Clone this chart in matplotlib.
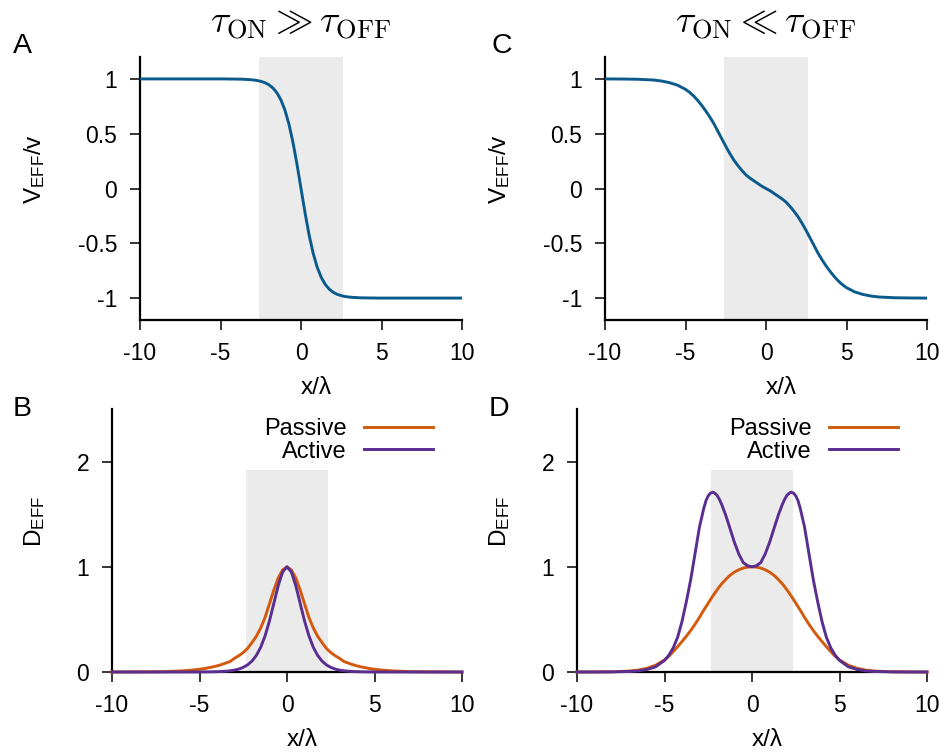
import matplotlib
matplotlib.use("Agg")
import matplotlib.pyplot as plt

plt.rcParams['font.family'] = ['Liberation Sans', 'DejaVu Sans']
plt.rcParams['mathtext.fontset'] = 'custom'
plt.rcParams['mathtext.rm'] = 'Liberation Sans'
plt.rcParams['mathtext.it'] = 'Liberation Sans:italic'
plt.rcParams['mathtext.bf'] = 'Liberation Sans:bold'
plt.rcParams['axes.unicode_minus'] = False

# ---------------- data ----------------
x_pos = [-10, -9, -8, -7, -6.5, -6, -5.5,
         -5, -4.75, -4.5, -4.25, -4, -3.75, -3.5, -3.25, -3, -2.75, -2.5, -2.25,
         -2, -1.75, -1.5, -1.25, -1, -0.75, -0.5, -0.25, 0,
         0.25, 0.5, 0.75, 1, 1.25, 1.5, 1.75, 2, 2.25, 2.5, 2.75, 3, 3.25, 3.5,
         3.75, 4, 4.25, 4.5, 4.75, 5,
         5.5, 6, 6.5, 7, 8, 9, 10]

# Panel A: V_EFF/v, tau_ON >> tau_OFF
v_eff_A = [1, 1, 1, 1, 1, 1, 1,
           1.0, 1.0, 0.999, 0.999, 0.998, 0.998, 0.996, 0.994, 0.991, 0.986, 0.978, 0.966,
           0.947, 0.918, 0.874, 0.809, 0.716, 0.588, 0.422, 0.221, 0.0,
           -0.221, -0.422, -0.588, -0.716, -0.809, -0.874, -0.918, -0.947, -0.966, -0.978,
           -0.986, -0.991, -0.994, -0.996,
           -0.998, -0.998, -0.999, -0.999, -1.0, -1.0,
           -1, -1, -1, -1, -1, -1, -1]

# Panel C: V_EFF/v, tau_ON << tau_OFF
v_eff_C = [1.0, 0.999, 0.997, 0.99, 0.981, 0.966, 0.943,
           0.905, 0.878, 0.845, 0.805, 0.76, 0.71, 0.655, 0.595, 0.525, 0.455, 0.385, 0.32,
           0.26, 0.21, 0.165, 0.125, 0.095, 0.07, 0.045, 0.02, 0.0,
           -0.02, -0.045, -0.07, -0.095, -0.125, -0.165, -0.21, -0.26, -0.32, -0.385,
           -0.455, -0.525, -0.595, -0.655,
           -0.71, -0.76, -0.805, -0.845, -0.878, -0.905,
           -0.943, -0.966, -0.981, -0.99, -0.997, -0.999, -1.0]

# Panel B: D_EFF, tau_ON >> tau_OFF
d_passive_B = [0.0, 0.0005, 0.0015, 0.004, 0.007, 0.011, 0.017,
               0.026, 0.032, 0.04, 0.048, 0.058, 0.07, 0.085, 0.10, 0.13, 0.155, 0.185, 0.225,
               0.28, 0.34, 0.42, 0.52, 0.65, 0.78, 0.895, 0.97, 1.0,
               0.97, 0.895, 0.78, 0.65, 0.52, 0.42, 0.34, 0.28, 0.225, 0.185,
               0.155, 0.13, 0.10, 0.085,
               0.07, 0.058, 0.048, 0.04, 0.032, 0.026,
               0.017, 0.011, 0.007, 0.004, 0.0015, 0.0005, 0.0]
d_active_B = [0.0, 0.0, 0.0, 0.0, 0.0, 0.0, 0.0002,
              0.0005, 0.0008, 0.0012, 0.002, 0.003, 0.0046, 0.0074, 0.0116, 0.018, 0.028, 0.044, 0.068,
              0.104, 0.158, 0.236, 0.345, 0.487, 0.654, 0.822, 0.951, 1.0,
              0.951, 0.822, 0.654, 0.487, 0.345, 0.236, 0.158, 0.104, 0.068, 0.044,
              0.028, 0.018, 0.0116, 0.0074,
              0.0046, 0.003, 0.002, 0.0012, 0.0008, 0.0005,
              0.0002, 0.0, 0.0, 0.0, 0.0, 0.0, 0.0]

# Panel D: D_EFF, tau_ON << tau_OFF
d_passive_D = [0.0, 0.0005, 0.002, 0.009, 0.018, 0.035, 0.065,
               0.115, 0.15, 0.195, 0.24, 0.29, 0.34, 0.395, 0.455, 0.52, 0.59, 0.655, 0.72,
               0.78, 0.835, 0.88, 0.92, 0.95, 0.972, 0.988, 0.997, 1.0,
               0.997, 0.988, 0.972, 0.95, 0.92, 0.88, 0.835, 0.78, 0.72, 0.655,
               0.59, 0.52, 0.455, 0.395,
               0.34, 0.29, 0.24, 0.195, 0.15, 0.115,
               0.065, 0.035, 0.018, 0.009, 0.002, 0.0005, 0.0]

x_pos_D_active = [-10, -9, -8, -7, -6.5, -6, -5.5,
                  -5, -4.75, -4.5, -4.25, -4, -3.75, -3.5, -3.25, -3, -2.75, -2.625,
                  -2.5, -2.375, -2.25, -2.125, -2, -1.875, -1.75, -1.5, -1.25, -1,
                  -0.75, -0.5, -0.25, 0,
                  0.25, 0.5, 0.75, 1, 1.25, 1.5, 1.75, 1.875, 2, 2.125, 2.25, 2.375,
                  2.5, 2.625, 2.75, 3, 3.25, 3.5, 3.75, 4, 4.25, 4.5, 4.75, 5,
                  5.5, 6, 6.5, 7, 8, 9, 10]
d_active_D = [0.0, 0.0, 0.001, 0.005, 0.011, 0.024, 0.05,
              0.11, 0.16, 0.23, 0.33, 0.48, 0.67, 0.88, 1.13, 1.38, 1.56, 1.63,
              1.675, 1.70, 1.71, 1.70, 1.68, 1.645, 1.60, 1.49, 1.36, 1.23,
              1.12, 1.04, 1.01, 1.0,
              1.01, 1.04, 1.12, 1.23, 1.36, 1.49, 1.60, 1.645, 1.68, 1.70, 1.71, 1.70,
              1.675, 1.63, 1.56, 1.38, 1.13, 0.88, 0.67, 0.48, 0.33, 0.23, 0.16, 0.11,
              0.05, 0.024, 0.011, 0.005, 0.001, 0.0, 0.0]

x_ticks = [-10, -5, 0, 5, 10]
x_tick_labels = ['-10', '-5', '0', '5', '10']
v_ticks = [-1, -0.5, 0, 0.5, 1]
v_tick_labels = ['-1', '-0.5', '0', '0.5', '1']
d_ticks = [0, 1, 2]
d_tick_labels = ['0', '1', '2']
series_labels = ['Passive', 'Active']
titles = [r'$\tau_{\rm ON} \gg \tau_{\rm OFF}$', r'$\tau_{\rm ON} \ll \tau_{\rm OFF}$']
panel_letters = ['A', 'B', 'C', 'D']

# ---------------- style ----------------
BLUE = '#0b5a8c'
ORANGE = '#d35a0c'
PURPLE = '#5a2d91'
SHADE = '#ebebeb'
LW = 2.1

W, H = 947, 753
fig = plt.figure(figsize=(W / 100, H / 100), dpi=100)


def px_axes(left, right, top, bottom):
    return fig.add_axes([left / W, 1 - bottom / H, (right - left) / W, (bottom - top) / H])


axA = px_axes(140, 462, 57, 320)
axC = px_axes(605, 927, 57, 320)
axB = px_axes(112, 462, 409, 672)
axD = px_axes(577, 927, 409, 672)


def style(ax):
    for s in ['top', 'right']:
        ax.spines[s].set_visible(False)
    for s in ['left', 'bottom']:
        ax.spines[s].set_linewidth(1.6)
        ax.spines[s].set_color('black')
    ax.tick_params(axis='both', direction='out', length=7, width=1.1, labelsize=16.5, colors='black')
    ax.tick_params(axis='x', pad=9)
    ax.tick_params(axis='y', pad=9.5)
    ax.set_xlim(-10, 10)
    ax.set_xticks(x_ticks)
    ax.set_xticklabels(x_tick_labels)


for ax, v, ttl in [(axA, v_eff_A, titles[0]), (axC, v_eff_C, titles[1])]:
    style(ax)
    ax.axvspan(-2.58, 2.58, color=SHADE, zorder=0, lw=0)
    ax.plot(x_pos, v, color=BLUE, lw=LW, zorder=3)
    ax.set_ylim(-1.2, 1.2)
    ax.set_yticks(v_ticks)
    ax.set_yticklabels(v_tick_labels)
    ax.set_ylabel(r'V$_{\mathrm{EFF}}$/v', fontsize=17.5, va='center', ha='center')
    ax.yaxis.set_label_coords(-0.327, 0.574)
    ax.set_xlabel('x/λ', fontsize=17.5, va='center', ha='center')
    ax.xaxis.set_label_coords(0.547, -0.259)
    ax.set_title(ttl, fontsize=27, pad=17, math_fontfamily='cm')

for ax, dp, xa, da in [(axB, d_passive_B, x_pos, d_active_B),
                       (axD, d_passive_D, x_pos_D_active, d_active_D)]:
    style(ax)
    ax.fill_between([-2.37, 2.37], 0, 1.92, color=SHADE, zorder=0, lw=0)
    ax.plot(x_pos, dp, color=ORANGE, lw=LW, zorder=3, clip_on=False, label=series_labels[0])
    ax.plot(xa, da, color=PURPLE, lw=LW, zorder=3, clip_on=False, label=series_labels[1])
    ax.set_ylim(0, 2.5)
    ax.set_yticks(d_ticks)
    ax.set_yticklabels(d_tick_labels)
    ax.set_ylabel(r'D$_{\mathrm{EFF}}$', fontsize=17.5, va='center', ha='center')
    ax.yaxis.set_label_coords(-0.221, 0.574)
    ax.set_xlabel('x/λ', fontsize=17.5, va='center', ha='center')
    ax.xaxis.set_label_coords(0.543, -0.259)
    ax.legend(loc='upper right', bbox_to_anchor=(0.917, 0.966), frameon=False,
              markerfirst=False, fontsize=17, handlelength=2.93, handletextpad=0.72,
              labelspacing=0.03, borderpad=0, borderaxespad=0)

letter_pos = {'A': (13, 53), 'C': (491, 53), 'B': (13, 416), 'D': (489, 416)}
for letter in panel_letters:
    px, py = letter_pos[letter]
    fig.text(px / W, 1 - py / H, letter, fontsize=20.5, ha='left', va='baseline')

fig.savefig('out.png', dpi=100)
